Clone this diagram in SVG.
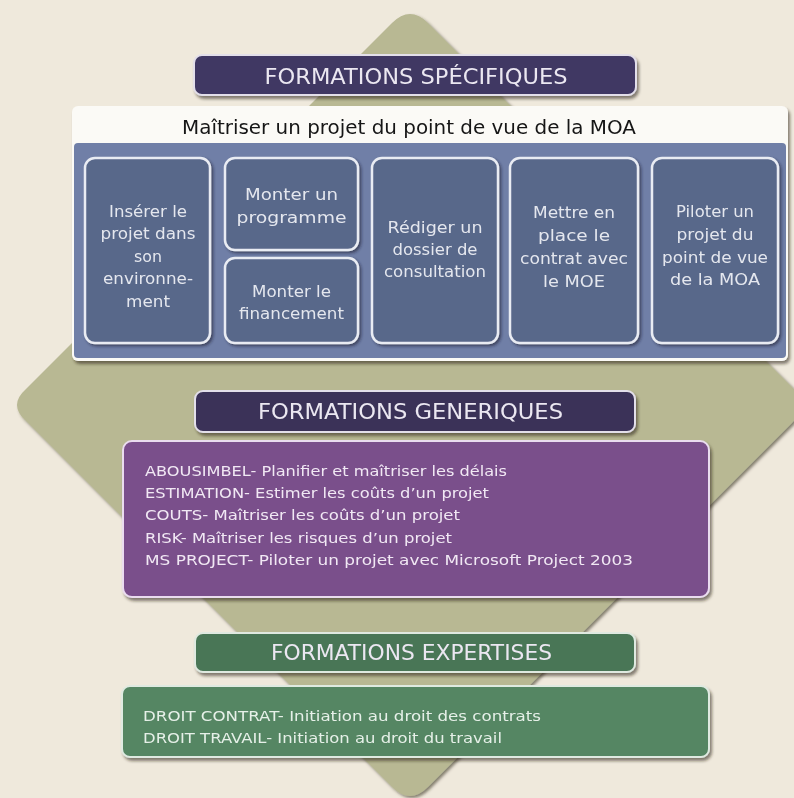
<svg xmlns="http://www.w3.org/2000/svg" width="794" height="798" viewBox="0 0 794 798">
<defs>
<filter id="sh" x="-10%" y="-10%" width="125%" height="130%">
<feDropShadow dx="2" dy="3" stdDeviation="1.6" flood-color="#2a2418" flood-opacity="0.55"/>
</filter>
<filter id="shd" x="-5%" y="-5%" width="115%" height="115%">
<feDropShadow dx="2" dy="2" stdDeviation="1.5" flood-color="#3a3826" flood-opacity="0.6"/>
</filter>
<filter id="shc" x="-10%" y="-10%" width="130%" height="130%">
<feDropShadow dx="2" dy="2" stdDeviation="1.5" flood-color="#1e2436" flood-opacity="0.6"/>
</filter>
</defs>
<style>
.hdr{font-family:"DejaVu Sans","Liberation Sans",sans-serif;font-size:22px;fill:#ebe7f1;text-anchor:middle}
.card{fill:#58678a;stroke:#e9ecf3;stroke-width:2.5}
.ct{font-family:"DejaVu Sans","Liberation Sans",sans-serif;font-size:15.5px;fill:#e4e7ee;text-anchor:middle;lengthAdjust:spacing}
.pt{font-family:"DejaVu Sans","Liberation Sans",sans-serif;font-size:14px;fill:#f1e8f4}
.gt{font-family:"DejaVu Sans","Liberation Sans",sans-serif;font-size:14px;fill:#e6f0e8}
</style>
<rect x="0" y="0" width="794" height="798" fill="#efe9dc"/>
<path id="diamond" filter="url(#shd)" fill="#b8b893" d="M392,23 Q410,5 428,23 L792,387 Q810,405 792,423 L428,787 Q410,805 392,787 L26,421 Q8,405 26,389 Z"/>

<g id="hdr-specifiques" filter="url(#sh)">
<rect x="194" y="55" width="442" height="40" rx="8" fill="#3f3763" stroke="#e3dfea" stroke-width="2"/>
<text class="hdr" x="416" y="84" textLength="303" lengthAdjust="spacingAndGlyphs">FORMATIONS SPÉCIFIQUES</text>
</g>

<g id="moa-box" filter="url(#sh)">
<rect x="72" y="106" width="716" height="255" rx="6" fill="#fbfaf6"/>
<rect x="74" y="143" width="712" height="215" rx="4" fill="#6f7fa7"/>
<text x="409" y="134" font-family="DejaVu Sans, Liberation Sans, sans-serif" font-size="19" fill="#151515" text-anchor="middle" textLength="454" lengthAdjust="spacingAndGlyphs">Maîtriser un projet du point de vue de la MOA</text>
</g>

<g id="card-inserer" filter="url(#shc)">
<rect class="card" x="85" y="158" width="125" height="185" rx="10"/>
<text class="ct" x="148" y="217" textLength="78" lengthAdjust="spacingAndGlyphs">Insérer le</text>
<text class="ct" x="148" y="239" textLength="95" lengthAdjust="spacingAndGlyphs">projet dans</text>
<text class="ct" x="148" y="262" textLength="28" lengthAdjust="spacingAndGlyphs">son</text>
<text class="ct" x="148" y="284" textLength="90" lengthAdjust="spacingAndGlyphs">environne-</text>
<text class="ct" x="148" y="307" textLength="44" lengthAdjust="spacingAndGlyphs">ment</text>
</g>

<g id="card-programme" filter="url(#shc)">
<rect class="card" x="225" y="158" width="133" height="92" rx="10"/>
<text class="ct" x="291.5" y="200" textLength="93" lengthAdjust="spacingAndGlyphs">Monter un</text>
<text class="ct" x="291.5" y="223" textLength="110" lengthAdjust="spacingAndGlyphs">programme</text>
</g>

<g id="card-financement" filter="url(#shc)">
<rect class="card" x="225" y="258" width="133" height="85" rx="10"/>
<text class="ct" x="291.5" y="297" textLength="79" lengthAdjust="spacingAndGlyphs">Monter le</text>
<text class="ct" x="291.5" y="319" textLength="105" lengthAdjust="spacingAndGlyphs">financement</text>
</g>

<g id="card-rediger" filter="url(#shc)">
<rect class="card" x="372" y="158" width="126" height="185" rx="10"/>
<text class="ct" x="435" y="233" textLength="95" lengthAdjust="spacingAndGlyphs">Rédiger un</text>
<text class="ct" x="435" y="255" textLength="85" lengthAdjust="spacingAndGlyphs">dossier de</text>
<text class="ct" x="435" y="277" textLength="102" lengthAdjust="spacingAndGlyphs">consultation</text>
</g>

<g id="card-contrat" filter="url(#shc)">
<rect class="card" x="510" y="158" width="128" height="185" rx="10"/>
<text class="ct" x="574" y="218" textLength="82" lengthAdjust="spacingAndGlyphs">Mettre en</text>
<text class="ct" x="574" y="241" textLength="72" lengthAdjust="spacingAndGlyphs">place le</text>
<text class="ct" x="574" y="264" textLength="108" lengthAdjust="spacingAndGlyphs">contrat avec</text>
<text class="ct" x="574" y="287" textLength="62" lengthAdjust="spacingAndGlyphs">le MOE</text>
</g>

<g id="card-piloter" filter="url(#shc)">
<rect class="card" x="652" y="158" width="126" height="185" rx="10"/>
<text class="ct" x="715" y="217" textLength="78" lengthAdjust="spacingAndGlyphs">Piloter un</text>
<text class="ct" x="715" y="240" textLength="77" lengthAdjust="spacingAndGlyphs">projet du</text>
<text class="ct" x="715" y="263" textLength="106" lengthAdjust="spacingAndGlyphs">point de vue</text>
<text class="ct" x="715" y="285" textLength="90" lengthAdjust="spacingAndGlyphs">de la MOA</text>
</g>

<g id="hdr-generiques" filter="url(#sh)">
<rect x="195" y="391" width="440" height="41" rx="8" fill="#3b3358" stroke="#e3dfea" stroke-width="2"/>
<text class="hdr" x="410.5" y="419" textLength="305" lengthAdjust="spacingAndGlyphs">FORMATIONS GENERIQUES</text>
</g>

<g id="box-generiques" filter="url(#sh)">
<rect x="123" y="441" width="586" height="156" rx="9" fill="#7a4f8b" stroke="#eadcef" stroke-width="2"/>
<text class="pt" x="145" y="476" textLength="362" lengthAdjust="spacingAndGlyphs">ABOUSIMBEL- Planifier et maîtriser les délais</text>
<text class="pt" x="145" y="498" textLength="344" lengthAdjust="spacingAndGlyphs">ESTIMATION- Estimer les coûts d’un projet</text>
<text class="pt" x="145" y="520" textLength="315" lengthAdjust="spacingAndGlyphs">COUTS- Maîtriser les coûts d’un projet</text>
<text class="pt" x="145" y="543" textLength="307" lengthAdjust="spacingAndGlyphs">RISK- Maîtriser les risques d’un projet</text>
<text class="pt" x="145" y="565" textLength="488" lengthAdjust="spacingAndGlyphs">MS PROJECT- Piloter un projet avec Microsoft Project 2003</text>
</g>

<g id="hdr-expertises" filter="url(#sh)">
<rect x="195" y="633" width="440" height="39" rx="8" fill="#4a7656" stroke="#dfe9e0" stroke-width="2"/>
<text class="hdr" x="411.5" y="660" textLength="281" lengthAdjust="spacingAndGlyphs">FORMATIONS EXPERTISES</text>
</g>

<g id="box-expertises" filter="url(#sh)">
<rect x="122" y="686" width="587" height="71" rx="8" fill="#558663" stroke="#dfeae1" stroke-width="2"/>
<text class="gt" x="143" y="721" textLength="398" lengthAdjust="spacingAndGlyphs">DROIT CONTRAT- Initiation au droit des contrats</text>
<text class="gt" x="143" y="743" textLength="359" lengthAdjust="spacingAndGlyphs">DROIT TRAVAIL- Initiation au droit du travail</text>
</g>

<g id="connectors"/>
</svg>
